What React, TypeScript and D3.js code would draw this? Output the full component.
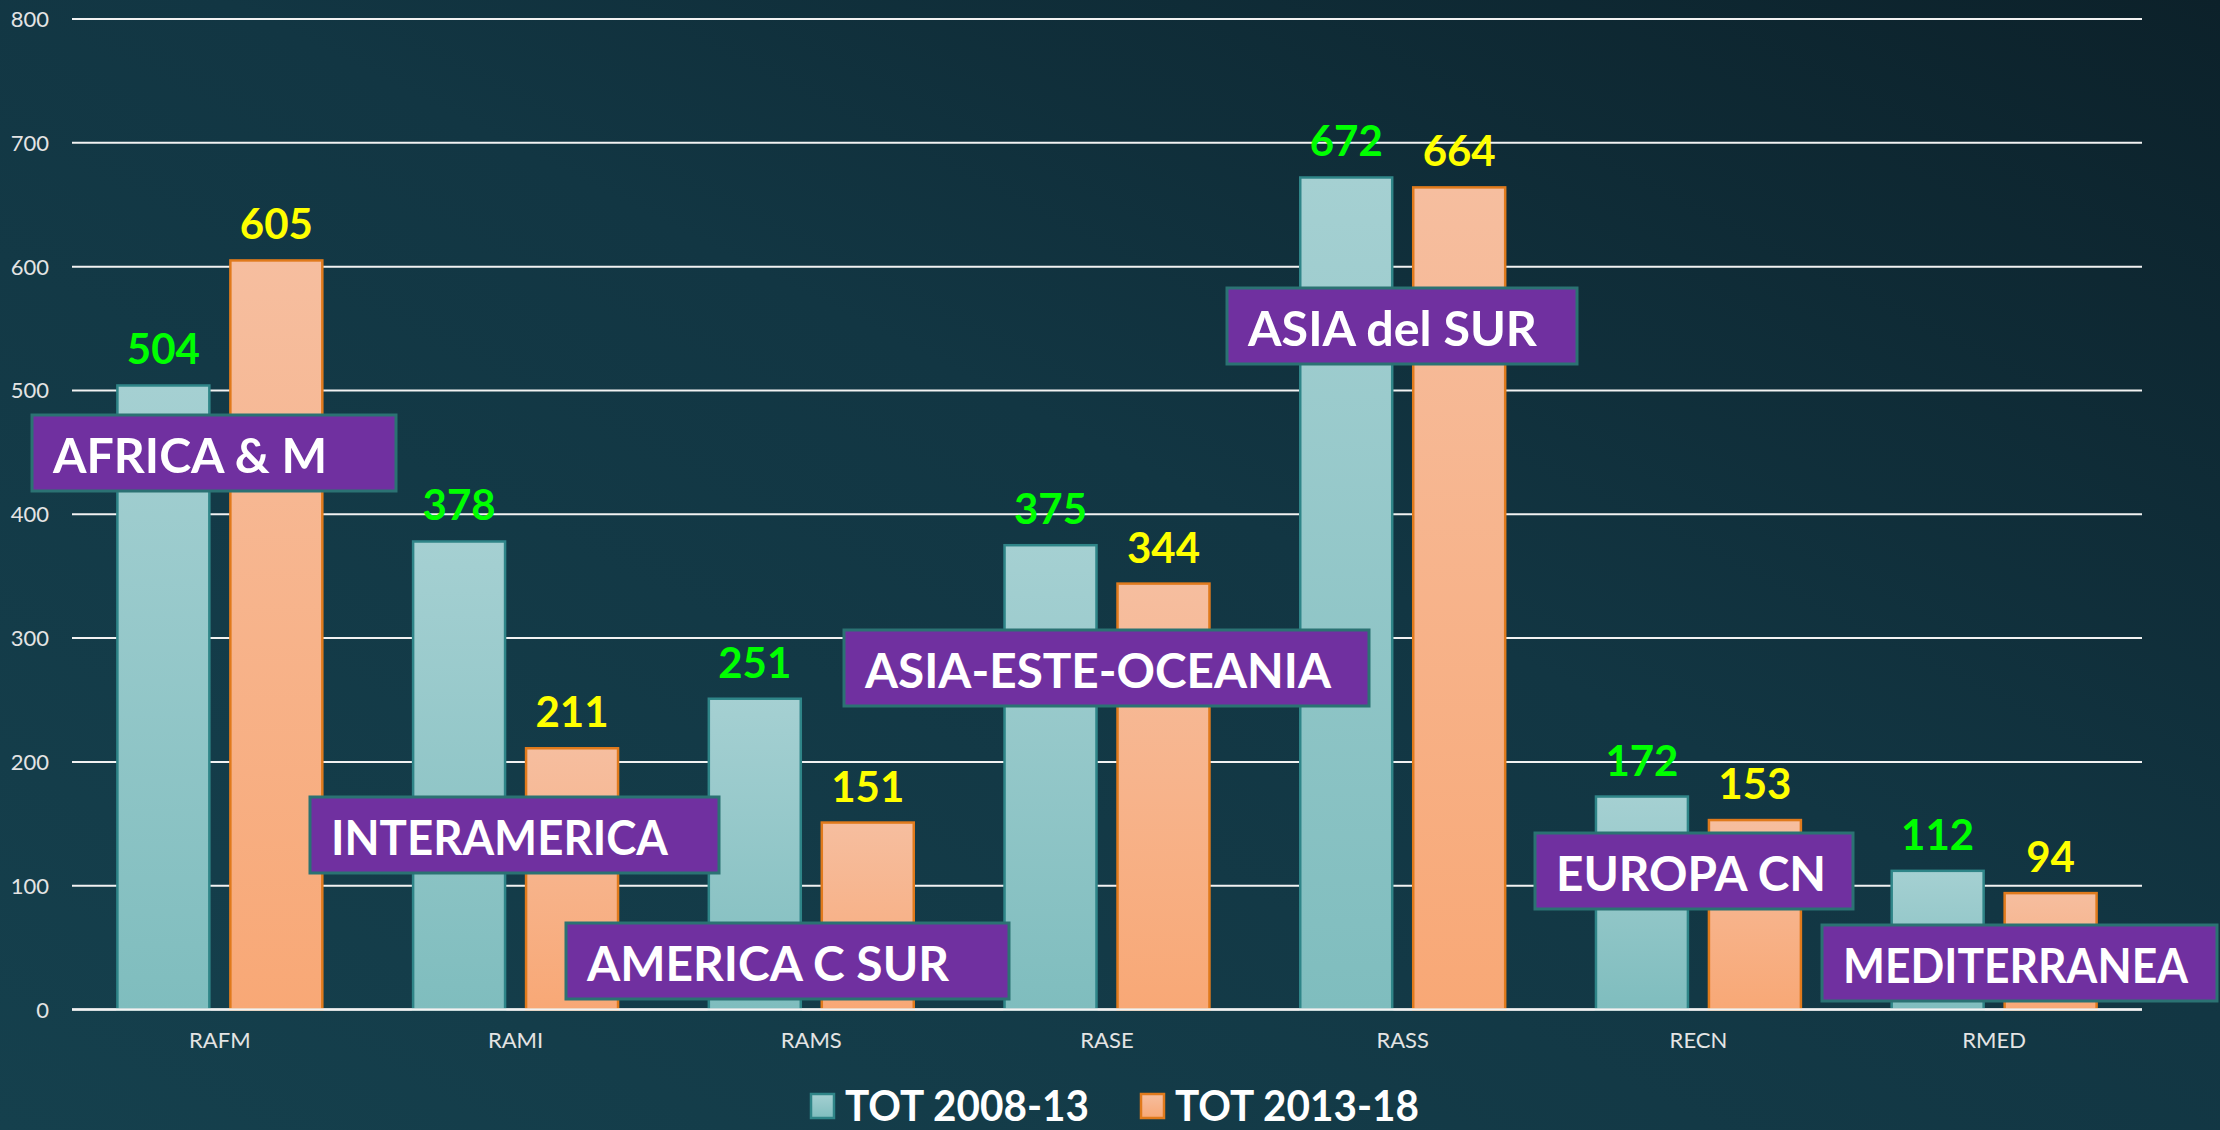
import React from "react";
import * as d3 from "d3";

const categories = ["RAFM", "RAMI", "RAMS", "RASE", "RASS", "RECN", "RMED"];
const tot0813 = [504, 378, 251, 375, 672, 172, 112];
const tot1318 = [605, 211, 151, 344, 664, 153, 94];
const seriesNames = ["TOT 2008-13", "TOT 2013-18"];
const yTicks = [0, 100, 200, 300, 400, 500, 600, 700, 800];
const regionLabels = [
  "AFRICA & M",
  "INTERAMERICA",
  "AMERICA C SUR",
  "ASIA-ESTE-OCEANIA",
  "ASIA del SUR",
  "EUROPA CN",
  "MEDITERRANEA",
];

// layout of annotation boxes (pixels)
const boxLayout = [
  { x: 32, y: 415, w: 364, tw: 274 },
  { x: 310, y: 797, w: 409, tw: 337 },
  { x: 566, y: 923, w: 443, tw: 362 },
  { x: 844, y: 630, w: 525, tw: 466 },
  { x: 1227, y: 288, w: 350, tw: 289 },
  { x: 1535, y: 833, w: 318, tw: 270 },
  { x: 1822, y: 925, w: 395, tw: 345 },
];

const W = 2220;
const H = 1130;
const plotL = 72;
const plotR = 2142;
const yTop = 19;
const yBot = 1009.5;

export default function App() {
  const x0 = d3
    .scaleBand<string>()
    .domain(categories)
    .range([plotL, plotR])
    .paddingInner(0.307)
    .paddingOuter(0.1535);
  const x1 = d3
    .scaleBand<string>()
    .domain(seriesNames)
    .range([0, x0.bandwidth()])
    .paddingInner(0.186)
    .paddingOuter(0);
  const y = d3.scaleLinear().domain([0, 800]).range([yBot, yTop]);

  const series = [
    { name: seriesNames[0], values: tot0813, fill: "url(#gTeal)", stroke: "#2f8588", label: "#00ff00" },
    { name: seriesNames[1], values: tot1318, fill: "url(#gOrange)", stroke: "#e07a1c", label: "#ffff00" },
  ];

  const font = "Lato, 'Open Sans', sans-serif";

  return (
    <svg
      width={W}
      height={H}
      style={{ position: "absolute", left: 0, top: 0, display: "block" }}
      xmlns="http://www.w3.org/2000/svg"
    >
      <defs>
        <linearGradient id="bg" x1="1" y1="0" x2="0" y2="1">
          <stop offset="0" stopColor="#0c212a" />
          <stop offset="0.45" stopColor="#123643" />
          <stop offset="1" stopColor="#15404d" />
        </linearGradient>
        <linearGradient id="gTeal" x1="0" y1="0" x2="0" y2="1">
          <stop offset="0" stopColor="#a5d0d2" />
          <stop offset="1" stopColor="#7fbdbe" />
        </linearGradient>
        <linearGradient id="gOrange" x1="0" y1="0" x2="0" y2="1">
          <stop offset="0" stopColor="#f6be9f" />
          <stop offset="1" stopColor="#f8a876" />
        </linearGradient>
      </defs>
      <rect x={0} y={0} width={W} height={H} fill="url(#bg)" />

      {/* gridlines */}
      {yTicks.map((t) => (
        <line
          key={t}
          x1={plotL}
          x2={plotR}
          y1={y(t)}
          y2={y(t)}
          stroke="#f2f2f2"
          strokeWidth={2}
        />
      ))}
      {yTicks.map((t) => (
        <text
          key={"l" + t}
          x={49}
          y={y(t) + 8}
          textAnchor="end"
          fontFamily={font}
          fontSize={22}
          fill="#e4e4e4"
        >
          {t}
        </text>
      ))}

      {/* bars */}
      {series.map((s) =>
        categories.map((c, i) => {
          const bx = (x0(c) as number) + (x1(s.name) as number);
          const by = y(s.values[i]);
          return (
            <rect
              key={s.name + c}
              x={bx}
              y={by}
              width={x1.bandwidth()}
              height={y(0) - by}
              fill={s.fill}
              stroke={s.stroke}
              strokeWidth={2.5}
            />
          );
        })
      )}
      <line x1={plotL} x2={plotR} y1={y(0)} y2={y(0)} stroke="#f2f2f2" strokeWidth={2.5} />

      {/* value labels */}
      {series.map((s) =>
        categories.map((c, i) => {
          const cx = (x0(c) as number) + (x1(s.name) as number) + x1.bandwidth() / 2;
          return (
            <text
              key={"v" + s.name + c}
              x={cx}
              y={y(s.values[i]) - 21}
              textAnchor="middle"
              fontFamily={font}
              fontWeight={700}
              fontSize={42}
              fill={s.label}
            >
              {s.values[i]}
            </text>
          );
        })
      )}

      {/* category labels */}
      {categories.map((c) => (
        <text
          key={"c" + c}
          x={(x0(c) as number) + x0.bandwidth() / 2}
          y={1048}
          textAnchor="middle"
          fontFamily={font}
          fontSize={22}
          fill="#e4e4e4"
        >
          {c}
        </text>
      ))}

      {/* region boxes */}
      {regionLabels.map((r, i) => {
        const b = boxLayout[i];
        return (
          <g key={"b" + r}>
            <rect x={b.x} y={b.y} width={b.w} height={76} fill="#7030a0" stroke="#2b7273" strokeWidth={3} />
            <text
              x={b.x + 21}
              y={b.y + 58}
              fontFamily={font}
              fontWeight={700}
              fontSize={48}
              fill="#ffffff"
              textLength={b.tw}
              lengthAdjust="spacingAndGlyphs"
            >
              {r}
            </text>
          </g>
        );
      })}

      {/* legend */}
      {series.map((s, i) => {
        const lx = i === 0 ? 811 : 1141;
        return (
          <g key={"lg" + s.name}>
            <rect x={lx} y={1094} width={23} height={24} fill={s.fill} stroke={s.stroke} strokeWidth={2.5} />
            <text
              x={lx + 34}
              y={1121}
              fontFamily={font}
              fontWeight={700}
              fontSize={42}
              fill="#ffffff"
              textLength={244}
              lengthAdjust="spacingAndGlyphs"
            >
              {s.name}
            </text>
          </g>
        );
      })}
    </svg>
  );
}
